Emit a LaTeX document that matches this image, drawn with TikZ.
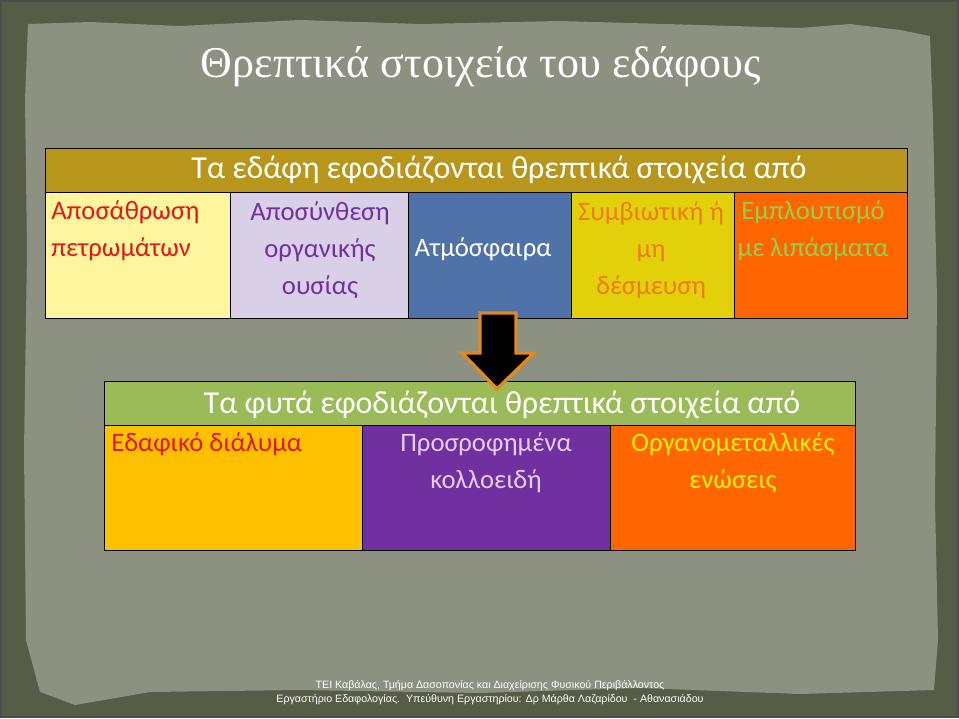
\documentclass[tikz,border=0pt]{standalone}
\usepackage{fontspec}
\setmainfont{Carlito}
\newfontfamily\titlefont{Liberation Serif}
\newfontfamily\footfont{Liberation Sans}
\usepackage{tikz}

\definecolor{frameolive}{HTML}{565C45}
\definecolor{paper}{HTML}{8D9181}
\definecolor{goldhead}{HTML}{B8961C}
\definecolor{greenhead}{HTML}{9BBB59}
\definecolor{paleyellow}{HTML}{FFF59F}
\definecolor{lavender}{HTML}{D9D0E8}
\definecolor{steelblue}{HTML}{4F73A8}
\definecolor{mustard}{HTML}{E2D00A}
\definecolor{brightorange}{HTML}{FF6600}
\definecolor{amber}{HTML}{FFC000}
\definecolor{deeppurple}{HTML}{7030A0}
\definecolor{redtext}{HTML}{E01818}
\definecolor{orangetext}{HTML}{F07D10}
\definecolor{greentext}{HTML}{92D050}
\definecolor{lilactext}{HTML}{E6CCF5}
\definecolor{arrowrim}{HTML}{E08A1E}

\tikzset{
  cell/.style={draw=black, line width=1pt, anchor=north west, inner sep=0pt},
  celltext/.style={align=center, inner sep=0pt, font=\fontsize{20}{27.75}\selectfont},
  headtext/.style={text=white, inner sep=0pt, font=\fontsize{24}{28}\selectfont}
}

\begin{document}
\begin{tikzpicture}[x=0.75pt, y=-0.75pt]
		\useasboundingbox (0, 0) rectangle (959, 718);

		% fond
		\fill[frameolive] (0, 0) rectangle (959, 718);
		\draw[black!70, line width=1pt] (1, 1) rectangle (958, 717);
		\fill[paper] (28, 24) -- (90, 22) -- (180, 26) -- (300, 20) -- (420, 24)
		    -- (560, 21) -- (700, 25) -- (800, 28) -- (850, 24) -- (900, 30) -- (930, 36)
		    -- (933, 120) -- (937, 300) -- (935, 500) -- (938, 640) -- (934, 690)
		    -- (800, 694) -- (640, 688) -- (480, 693) -- (300, 690) -- (150, 692)
		    -- (75, 705) -- (40, 692) -- (26, 640) -- (24, 450) -- (27, 250) -- (25, 100) -- cycle;

		% titre
		\node[text=white, font=\titlefont\fontsize{33}{38}\selectfont] (title) at (481, 67) {Θρεπτικά στοιχεία του εδάφους};

		% tableau du haut
		\node[cell, fill=goldhead, minimum width=862*0.75pt, minimum height=44*0.75pt] (soilhead) at (45, 148) {};
		\node[headtext] (soilheadtext) at (499, 170) {Τα εδάφη εφοδιάζονται θρεπτικά στοιχεία από};
		\node[cell, fill=paleyellow, minimum width=185*0.75pt, minimum height=126*0.75pt] (weathering) at (45, 192) {};
		\node[cell, fill=lavender, minimum width=178*0.75pt, minimum height=126*0.75pt] (decomposition) at (230, 192) {};
		\node[cell, fill=steelblue, minimum width=163*0.75pt, minimum height=126*0.75pt] (atmosphere) at (408, 192) {};
		\node[cell, fill=mustard, minimum width=163*0.75pt, minimum height=126*0.75pt] (fixation) at (571, 192) {};
		\node[cell, fill=brightorange, minimum width=173*0.75pt, minimum height=126*0.75pt] (fertilizing) at (734, 192) {};

		\node[celltext, text=redtext, align=left, anchor=west] (weatheringtext) at (51, 231) {Αποσάθρωση\\πετρωμάτων};
		\node[celltext, text=deeppurple] (decompositiontext) at (320, 250) {Αποσύνθεση\\οργανικής\\ουσίας};
		\node[celltext, text=white] (atmospheretext) at (483, 249) {Ατμόσφαιρα};
		\node[celltext, text=orangetext] (fixationtext) at (651, 250) {Συμβιωτική ή\\μη\\δέσμευση};
		\node[celltext, text=greentext] (fertilizingtext) at (813, 231) {Εμπλουτισμό\\με λιπάσματα};

		% tableau du bas
		\node[cell, fill=greenhead, minimum width=751*0.75pt, minimum height=44*0.75pt] (planthead) at (104, 381) {};
		\node[headtext] (plantheadtext) at (502, 405) {Τα φυτά εφοδιάζονται θρεπτικά στοιχεία από};
		\node[cell, fill=amber, minimum width=258*0.75pt, minimum height=125*0.75pt] (solution) at (104, 425) {};
		\node[cell, fill=deeppurple, minimum width=248*0.75pt, minimum height=125*0.75pt] (colloids) at (362, 425) {};
		\node[cell, fill=brightorange, minimum width=245*0.75pt, minimum height=125*0.75pt] (organometallic) at (610, 425) {};

		\node[celltext, text=redtext, anchor=west] (solutiontext) at (111, 444) {Εδαφικό διάλυμα};
		\node[celltext, text=lilactext] (colloidstext) at (486, 463) {Προσροφημένα\\κολλοειδή};
		\node[celltext, text=yellow] (organometallictext) at (733, 463) {Οργανομεταλλικές\\ενώσεις};

		% fleche
		\fill[black, draw=arrowrim, line width=2.5pt, line join=miter]
		    (480, 313) -- (516, 313) -- (516, 353) -- (534, 353) -- (497, 389)
		    -- (462, 353) -- (480, 353) -- cycle;

		% pied de page
		\node[text=white, align=center, inner sep=0pt, font=\footfont\fontsize{8}{10.5}\selectfont] (footer) at (490, 693)
		    {ΤΕΙ Καβάλας, Τμήμα Δασοπονίας και Διαχείρισης Φυσικού Περιβάλλοντος\\Εργαστήριο Εδαφολογίας.~~Υπεύθυνη Εργαστηρίου: Δρ Μάρθα Λαζαρίδου~~- Αθανασιάδου};
\end{tikzpicture}
\end{document}
